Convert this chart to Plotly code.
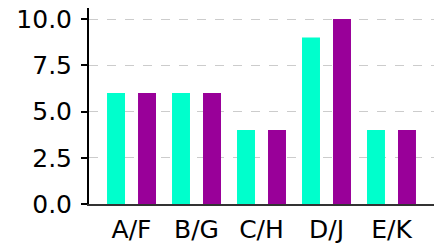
import plotly.graph_objects as go

categories = ["A/F", "B/G", "C/H", "D/J", "E/K"]
series1 = [6, 6, 4, 9, 4]
series2 = [6, 6, 4, 10, 4]
y_ticks = [0, 2.5, 5, 7.5, 10]
y_tick_labels = ["0.0", "2.5", "5.0", "7.5", "10.0"]

fig = go.Figure()
fig.add_trace(go.Bar(x=categories, y=series1, marker_color="#00FFCC", marker_line_width=0))
fig.add_trace(go.Bar(x=categories, y=series2, marker_color="#990099", marker_line_width=0))

fig.update_layout(
    width=445, height=246,
    margin=dict(l=89, r=11, t=8, b=42, autoexpand=False),
    paper_bgcolor="white", plot_bgcolor="white",
    showlegend=False, hovermode=False,
    barmode="group", bargap=0.046, bargroupgap=0.42,
    font=dict(family="DejaVu Sans", size=25, color="black"),
)
fig.update_xaxes(
    range=[-0.654, 4.654], automargin=False,
    showline=True, linecolor="#333333", linewidth=2,
    showgrid=False, ticks="", ticklabelstandoff=2,
    ticklabeloverflow="allow",
    tickfont=dict(size=25),
)
fig.update_yaxes(
    range=[0, 10.6], automargin=False,
    tickvals=y_ticks, ticktext=y_tick_labels,
    showline=True, linecolor="black", linewidth=2,
    ticks="outside", ticklen=6, tickwidth=2, tickcolor="black",
    ticklabelstandoff=4, ticklabeloverflow="allow",
    showgrid=True, gridcolor="#cccccc", griddash="dash", gridwidth=1,
    zeroline=False,
    tickfont=dict(size=25),
)

# remove the default 8px page margin so the figure fills the window exactly
fig.write_html(
    "out.html",
    config={"displayModeBar": False, "staticPlot": True},
    post_script="document.body.style.margin='0';",
)
